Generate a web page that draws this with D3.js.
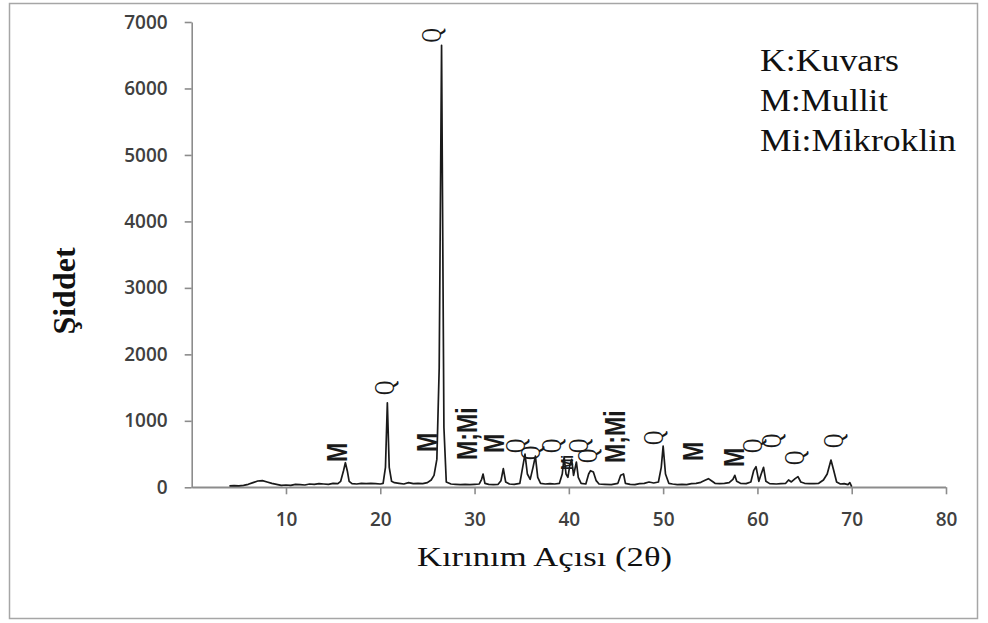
<!DOCTYPE html>
<html><head><meta charset="utf-8">
<script src="https://cdn.jsdelivr.net/npm/d3@7"></script>
<style>body{margin:0;background:#fff}svg{display:block}</style>
</head><body>
<svg id="c" width="988" height="623"></svg>
<script>
// ---- data ----
const twoTheta = [4.0,4.5,5.0,5.5,6.0,6.5,7.0,7.5,8.0,8.5,9.0,9.5,10.0,10.5,11.0,11.5,12.0,12.5,13.0,13.5,14.0,14.5,15.0,15.5,15.8,16.1,16.3,16.5,16.7,17.0,17.5,18.0,18.5,19.0,19.5,20.0,20.3,20.55,20.75,20.95,21.2,21.5,22.0,22.5,23.0,23.5,24.0,24.5,25.0,25.4,25.7,26.0,26.25,26.5,26.75,27.0,27.5,28.0,28.5,29.0,29.5,30.0,30.5,30.75,30.9,31.1,31.5,32.0,32.5,32.8,33.05,33.3,33.7,34.2,34.8,35.1,35.35,35.6,35.9,36.2,36.45,36.7,37.0,37.5,38.0,38.5,39.0,39.3,39.5,39.7,39.9,40.1,40.3,40.5,40.8,41.0,41.3,41.8,42.1,42.3,42.6,42.9,43.2,43.8,44.5,45.2,45.5,45.8,46.0,46.5,47.0,47.5,48.0,48.5,49.0,49.5,49.8,50.0,50.25,50.6,51.0,51.5,52.0,52.5,53.0,53.5,54.0,54.5,54.8,55.2,55.5,56.0,56.5,57.0,57.4,57.6,57.8,58.2,58.8,59.3,59.6,59.85,60.15,60.4,60.65,60.9,61.3,62.0,62.5,63.0,63.3,63.6,64.0,64.3,64.6,65.0,65.5,66.0,66.5,67.0,67.4,67.8,68.1,68.4,68.8,69.2,69.6,69.8,70.0];
const intensity = [20,25,22,30,45,70,95,100,80,60,45,30,35,28,45,40,35,50,45,55,50,45,60,55,90,250,370,250,90,55,50,60,55,60,55,50,60,300,1270,300,90,70,60,50,70,55,60,55,70,110,180,420,1800,6650,900,80,50,45,40,45,40,45,50,120,200,60,45,40,45,100,280,80,50,45,60,300,500,200,120,300,470,150,60,50,55,50,60,200,460,200,150,330,420,180,380,150,60,50,200,250,230,100,50,45,40,60,180,200,60,45,40,55,60,80,65,80,300,620,200,60,50,40,45,40,55,60,75,110,130,90,60,55,60,70,120,180,90,60,55,80,250,310,90,200,300,90,55,50,55,60,110,80,130,160,80,60,55,55,60,110,200,410,250,80,50,55,40,70,10];

const xTicks = [10,20,30,40,50,60,70,80];
const yTicks = [0,1000,2000,3000,4000,5000,6000,7000];

const labelX = [15.4,20.4,25.4,24.95,29.2,32.06,34.3,35.8,38.1,39.8,40.9,41.9,44.9,48.9,53.1,57.5,59.4,61.4,63.8,68.0];
const labelY = [381,1390,6691,532,411,517,517,411,517,260,517,366,366,637,396,306,517,592,336,592];
const labelText = ["M","Q","Q","M","M;Mi","M","Q","Q","Q","Mi","Q","Q","M;Mi","Q","M","M","Q","Q","Q","Q"];

const legendLines = ["K:Kuvars","M:Mullit","Mi:Mikroklin"];
const xTitle = "Kırınım Açısı (2θ)";
const yTitle = "Şiddet";

// ---- chart ----
const svg = d3.select("#c");
svg.append("rect").attr("x",9.5).attr("y",3.5).attr("width",968).attr("height",615)
  .attr("fill","none").attr("stroke","#a6a6a6").attr("stroke-width",1.5);

const x = d3.scaleLinear().domain([0,80]).range([191.7,946]);
const y = d3.scaleLinear().domain([0,7000]).range([487.3,22]);

const axisColor = "#8c8c8c";
const tickFont = "'Open Sans', sans-serif";

const gx = svg.append("g").attr("transform","translate(0,487.3)")
  .call(d3.axisBottom(x).tickValues(xTicks).tickSize(7).tickSizeOuter(0).tickPadding(18).tickFormat(d3.format("d")));
const gy = svg.append("g").attr("transform","translate(191.7,0)")
  .call(d3.axisLeft(y).tickValues(yTicks).tickSize(7).tickSizeOuter(0).tickPadding(17).tickFormat(d3.format("d")));
[gx,gy].forEach(g=>{
  g.select(".domain").attr("stroke",axisColor).attr("stroke-width",1.6);
  g.selectAll(".tick line").attr("stroke",axisColor).attr("stroke-width",1.6);
  g.selectAll(".tick text").attr("fill","#404040").attr("font-family",tickFont)
   .attr("font-weight",600).attr("font-size",19);
});
svg.append("line").attr("x1",x(0)).attr("x2",x(80)).attr("y1",487.3).attr("y2",487.3)
  .attr("stroke",axisColor).attr("stroke-width",1.6);

const pts = twoTheta.map((t,i)=>[t,intensity[i]]);
svg.append("path").datum(pts)
  .attr("d", d3.line().x(d=>x(d[0])).y(d=>y(d[1])))
  .attr("fill","none").attr("stroke","#1a1a1a").attr("stroke-width",1.7).attr("stroke-linejoin","round");

// peak labels
labelText.forEach((t,i)=>{
  const isQ = t==="Q";
  const small = t==="Mi";
  const fs = small ? 13 : 22;
  const sx = 1.3, sy = isQ ? 0.9 : 1.05;
  svg.append("text")
    .attr("transform",`translate(${x(labelX[i])},${y(labelY[i])}) scale(${sx},${sy}) rotate(-90)`)
    .attr("dy","0.36em")
    .attr("font-family", isQ ? "'Liberation Serif', serif" : "'Liberation Sans', Arial, sans-serif")
    .attr("font-weight", isQ ? 400 : 700)
    .attr("font-size", fs)
    .attr("fill","#1a1a1a")
    .text(t);
});

// legend
const legW = [139,128,196];
legendLines.forEach((t,i)=>{
  svg.append("text").attr("x",760).attr("y",71+i*40)
    .attr("font-family","'Liberation Serif', 'Times New Roman', serif").attr("font-size",32)
    .attr("fill","#111").attr("textLength",legW[i]).attr("lengthAdjust","spacingAndGlyphs")
    .text(t);
});

// axis titles
svg.append("text").attr("x",417).attr("y",566)
  .attr("font-family","'Liberation Serif', 'Times New Roman', serif").attr("font-size",28)
  .attr("fill","#111").attr("textLength",255).attr("lengthAdjust","spacingAndGlyphs")
  .text(xTitle);
svg.append("text").attr("transform","translate(75,291) rotate(-90)")
  .attr("text-anchor","middle")
  .attr("font-family","'Liberation Serif', 'Times New Roman', serif").attr("font-size",32)
  .attr("font-weight",700).attr("fill","#111")
  .text(yTitle);
</script>
</body></html>
